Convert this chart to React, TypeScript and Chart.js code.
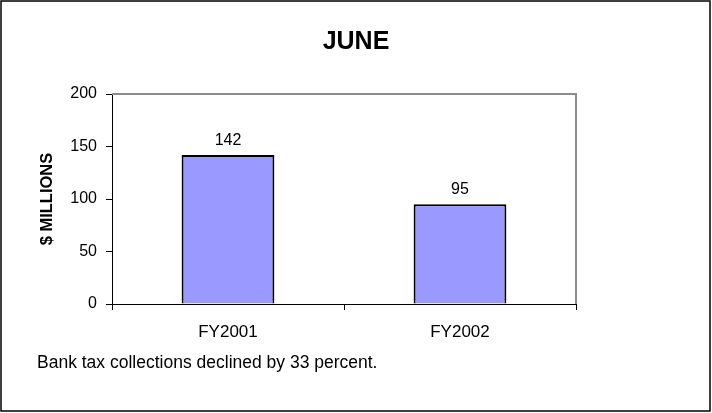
import React, { useEffect, useRef } from "react";
import { Chart, registerables } from "chart.js";

Chart.register(...registerables);

const categories = ["FY2001", "FY2002"];
const values = [142, 95];
const yTicks = [0, 50, 100, 150, 200];
const titleText = "JUNE";
const yAxisTitle = "$ MILLIONS";
const caption = "Bank tax collections declined by 33 percent.";

const FONT = "'Liberation Sans', Arial, Helvetica, sans-serif";

export default function App() {
  const ref = useRef<HTMLCanvasElement>(null);

  useEffect(() => {
    const canvas = ref.current;
    if (!canvas) return;

    const framePlugin = {
      id: "frame",
      beforeDraw(chart: any) {
        const ctx = chart.ctx;
        ctx.save();
        ctx.fillStyle = "#ffffff";
        ctx.fillRect(0, 0, chart.width, chart.height);
        ctx.restore();
      },
      afterDraw(chart: any) {
        const ctx = chart.ctx;
        const { left, top, right, bottom } = chart.chartArea;
        ctx.save();
        // plot area top/right border
        ctx.strokeStyle = "#8c8c8c";
        ctx.lineWidth = 2;
        ctx.beginPath();
        ctx.moveTo(left, top);
        ctx.lineTo(right, top);
        ctx.lineTo(right, bottom);
        ctx.stroke();
        // outer frame
        ctx.strokeStyle = "#000000";
        ctx.lineWidth = 1.5;
        ctx.strokeRect(1, 1, chart.width - 3, chart.height - 3);
        // data labels
        ctx.fillStyle = "#000000";
        ctx.font = `16px ${FONT}`;
        ctx.textAlign = "center";
        ctx.textBaseline = "alphabetic";
        const meta = chart.getDatasetMeta(0);
        meta.data.forEach((el: any, i: number) => {
          ctx.fillText(String(values[i]), el.x, el.y - 10);
        });
        // caption
        ctx.textAlign = "left";
        ctx.font = `17.5px ${FONT}`;
        ctx.fillText(caption, 37, 368);
        ctx.restore();
      },
    };

    const chart = new Chart(canvas, {
      type: "bar",
      data: {
        labels: categories,
        datasets: [
          {
            data: values,
            backgroundColor: "#9999FF",
            borderColor: "#000000",
            borderWidth: 2,
            barPercentage: 0.4,
            categoryPercentage: 1,
          },
        ],
      },
      options: {
        responsive: false,
        animation: false,
        devicePixelRatio: 1,
        layout: { padding: { left: 0, top: 0, right: 0, bottom: 59 } },
        plugins: {
          legend: { display: false },
          tooltip: { enabled: false },
          title: {
            display: true,
            text: titleText,
            color: "#000000",
            font: { family: FONT, size: 25, weight: "bold", lineHeight: 1.2 },
            padding: { top: 27, bottom: 37 },
          },
        },
        scales: {
          x: {
            grid: {
              display: true,
              drawOnChartArea: false,
              drawTicks: true,
              tickLength: 6,
              color: "#000000",
              offset: true,
            },
            border: { display: true, color: "#000000", width: 1 },
            ticks: {
              color: "#000000",
              font: { family: FONT, size: 17 },
              padding: 12,
              maxRotation: 0,
            },
            afterFit(scale: any) {
              scale.height = 50;
            },
          },
          y: {
            min: 0,
            max: 200,
            afterBuildTicks(scale: any) {
              scale.ticks = yTicks.map((v) => ({ value: v }));
            },
            grid: {
              display: true,
              drawOnChartArea: false,
              drawTicks: true,
              tickLength: 6,
              color: "#000000",
            },
            border: { display: true, color: "#000000", width: 1 },
            ticks: {
              color: "#000000",
              font: { family: FONT, size: 16 },
              padding: 9,
            },
            title: {
              display: true,
              text: yAxisTitle,
              color: "#000000",
              font: { family: FONT, size: 16.5, weight: "bold" },
              padding: { top: 38, bottom: 0 },
            },
            afterFit(scale: any) {
              scale.width = 112;
            },
          },
          spacer: {
            type: "linear",
            position: "right",
            display: true,
            grid: { display: false },
            border: { display: false },
            ticks: { display: false },
            afterFit(scale: any) {
              scale.width = 136;
            },
          },
        },
      },
      plugins: [framePlugin],
    });

    return () => {
      chart.destroy();
    };
  }, []);

  return (
    <div style={{ position: "absolute", left: 0, top: 0, width: 712, height: 413 }}>
      <canvas ref={ref} width={712} height={413} style={{ display: "block" }} />
    </div>
  );
}
